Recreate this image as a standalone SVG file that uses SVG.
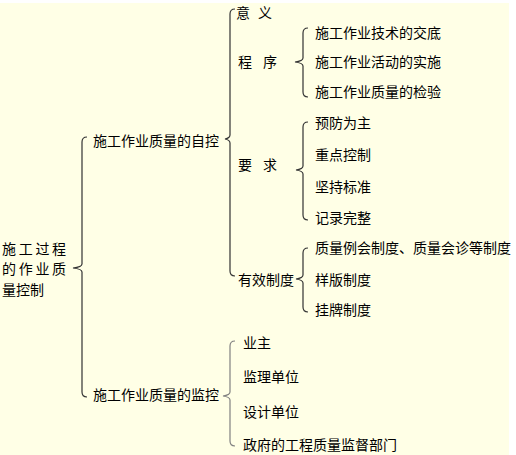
<svg xmlns="http://www.w3.org/2000/svg" width="516" height="455" viewBox="0 0 516 455">
<style>
text{font-family:"Noto Sans CJK SC","Noto Sans CJK TC",sans-serif;font-size:14px;fill:#000}
.br{fill:none;stroke:#333;stroke-width:1.2}
.br2{fill:none;stroke:#808080;stroke-width:1.2}
</style>
<rect x="0" y="0" width="516" height="455" fill="#fff"/>
<rect x="0" y="3" width="509" height="452" fill="#FFFFE6"/>
<g id="connectors">
<path class="br" d="M87 137 Q82 137 82 142 L82 264 Q82 267 73 268 Q82 269 82 272 L82 392 Q82 397 87 397"/>
<path class="br" d="M235 9 Q230 9 230 14 L230 135 Q230 138 225 139 Q230 140 230 143 L230 271 Q230 276 235 276"/>
<path class="br" d="M308 28 Q303 28 303 33 L303 58 Q303 61 295 62 Q303 63 303 66 L303 92 Q303 97 308 97"/>
<path class="br" d="M308 122 Q303 122 303 127 L303 166 Q303 169 296 170 Q303 171 303 174 L303 215 Q303 220 308 220"/>
<path class="br" d="M308 248 Q303 248 303 253 L303 275 Q303 278 296 279 Q303 280 303 283 L303 307 Q303 312 308 312"/>
<path class="br2" d="M235 341 Q230 341 230 346 L230 392 Q230 395 223 396 Q230 397 230 400 L230 441 Q230 446 235 446"/>
</g>
<g id="root">
<text x="2" y="254" letter-spacing="2.7">施工过程</text>
<text x="2" y="274" letter-spacing="2.7">的作业质</text>
<text x="2" y="295">量控制</text>
</g>
<g id="self-control"><text x="93" y="146">施工作业质量的自控</text></g>
<g id="monitor"><text x="93" y="400">施工作业质量的监控</text></g>
<g id="meaning"><text x="236 250 258" y="18">意 义</text></g>
<g id="procedure"><text x="238 252 263" y="67">程 序</text></g>
<g id="proc-1"><text x="315" y="38">施工作业技术的交底</text></g>
<g id="proc-2"><text x="315" y="67">施工作业活动的实施</text></g>
<g id="proc-3"><text x="315" y="97">施工作业质量的检验</text></g>
<g id="requirement"><text x="238 252 263" y="170">要 求</text></g>
<g id="req-1"><text x="315" y="128">预防为主</text></g>
<g id="req-2"><text x="315" y="160">重点控制</text></g>
<g id="req-3"><text x="315" y="192">坚持标准</text></g>
<g id="req-4"><text x="315" y="223">记录完整</text></g>
<g id="system"><text x="238" y="285">有效制度</text></g>
<g id="sys-1"><text x="315" y="253">质量例会制度、质量会诊等制度</text></g>
<g id="sys-2"><text x="315" y="285">样版制度</text></g>
<g id="sys-3"><text x="315" y="315">挂牌制度</text></g>
<g id="mon-1"><text x="243" y="348">业主</text></g>
<g id="mon-2"><text x="243" y="382">监理单位</text></g>
<g id="mon-3"><text x="243" y="417">设计单位</text></g>
<g id="mon-4"><text x="243" y="450">政府的工程质量监督部门</text></g>
</svg>
